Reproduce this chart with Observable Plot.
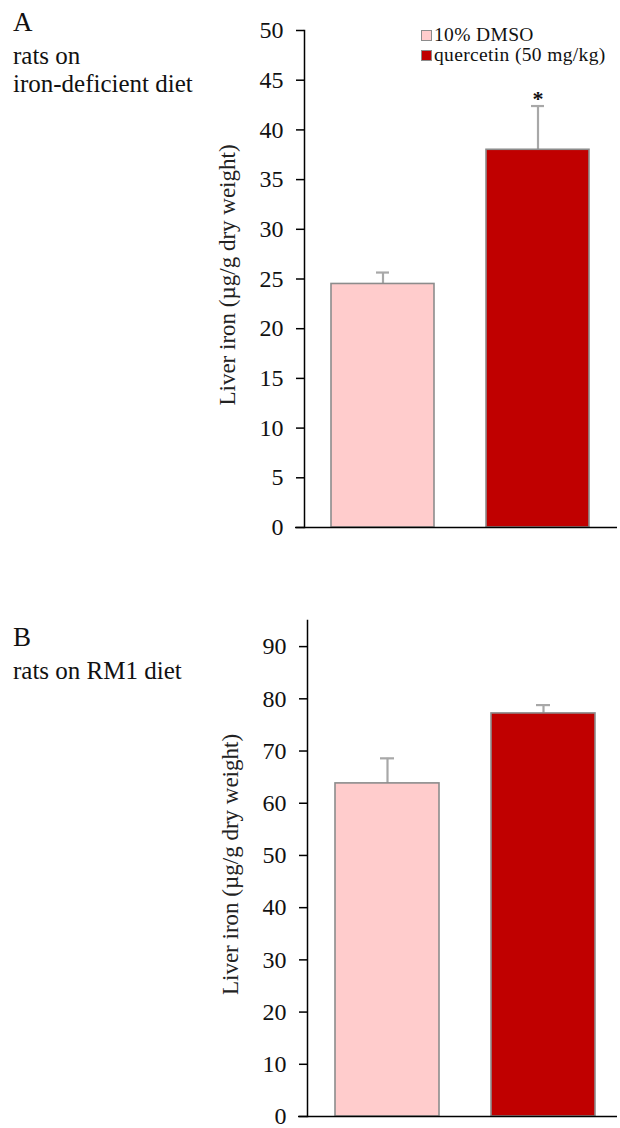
<!DOCTYPE html>
<html>
<head>
<meta charset="utf-8">
<script src="https://cdn.jsdelivr.net/npm/d3@7"></script>
<script src="https://cdn.jsdelivr.net/npm/@observablehq/plot@0.6"></script>
<style>
  body { margin: 0; background: #fff; }
  #wrap { position: relative; width: 620px; height: 1128px; font-family: "Liberation Serif", "DejaVu Serif", "Times New Roman", serif; color: #111; }
  .abs { position: absolute; white-space: nowrap; line-height: 1; }
  .plot { position: absolute; left: 0; }
  .sw { display: inline-block; width: 9px; height: 9px; border: 1px solid #8c8c8c; margin-right: 2px; vertical-align: 0px; }
</style>
</head>
<body>
<div id="wrap"></div>
<script>
// ---- data ----
const groups = ["10% DMSO", "quercetin (50 mg/kg)"];
const groupColors = ["#FFCCCC", "#C00000"];

const meanA = [24.5, 38.0];
const semA = [1.15, 4.4];
const sigA = ["", "*"];
const ticksA = [0, 5, 10, 15, 20, 25, 30, 35, 40, 45, 50];

const meanB = [63.8, 77.2];
const semB = [4.8, 1.6];
const sigB = ["", ""];
const ticksB = [0, 10, 20, 30, 40, 50, 60, 70, 80, 90];

const yLabel = "Liver iron (µg/g dry weight)";

const FONT = "'Liberation Serif', 'DejaVu Serif', 'Times New Roman', serif";
const wrap = document.getElementById("wrap");

function rows(mean, sem, sig) {
  return groups.map((g, i) => ({group: g, mean: mean[i], hi: mean[i] + sem[i], sig: sig[i]}));
}

function panel({data, ticks, domain, height, marginTop, marginBottom, range}) {
  return Plot.plot({
    width: 620,
    height,
    marginLeft: range[0],
    marginRight: 3,
    marginTop,
    marginBottom,
    style: {fontFamily: FONT, fontSize: "24px", color: "#111", background: "transparent", overflow: "visible"},
    x: {domain: groups, range, paddingInner: 0.333, paddingOuter: 0.173, axis: null},
    y: {domain, axis: null},
    color: {domain: groups, range: groupColors},
    marks: [
      Plot.axisY(ticks, {tickSize: 8, tickPadding: 13, stroke: "#000", strokeWidth: 1.5, label: null, fontSize: 24, fontFamily: FONT}),
      Plot.frame({anchor: "left", stroke: "#000", strokeWidth: 1.5}),
      Plot.ruleX(data, {x: "group", y1: "mean", y2: "hi", stroke: "#a8a8a8", strokeWidth: 2.2}),
      Plot.tickY(data, {x: "group", y: "hi", stroke: "#a8a8a8", strokeWidth: 2.2, insetLeft: 45, insetRight: 45}),
      Plot.barY(data, {x: "group", y: "mean", fill: "group", stroke: "#8c8c8c", strokeWidth: 1.6}),
      Plot.ruleY([0], {stroke: "#000", strokeWidth: 1.5, insetLeft: -9}),
      Plot.text(data, {x: "group", y: "hi", text: "sig", lineAnchor: "bottom", dy: 0, fontSize: 22, fontWeight: "bold", fill: "#111", fontFamily: FONT}),
      Plot.text([yLabel], {frameAnchor: "left", textAnchor: "middle", rotate: -90, dx: -77, dy: -4, fontSize: 23, fill: "#222", fontFamily: FONT})
    ]
  });
}

const plotA = panel({data: rows(meanA, semA, sigA), ticks: ticksA, domain: [0, 50], height: 560, marginTop: 30, marginBottom: 33, range: [304, 617]});
plotA.classList.add("plot");
plotA.style.top = "0px";
wrap.appendChild(plotA);

const plotB = panel({data: rows(meanB, semB, sigB), ticks: ticksB, domain: [0, 95], height: 568, marginTop: 60, marginBottom: 12, range: [307, 623]});
plotB.classList.add("plot");
plotB.style.top = "560px";
wrap.appendChild(plotB);

function addText(txt, left, top, size) {
  const d = document.createElement("div");
  d.className = "abs";
  d.style.left = left + "px";
  d.style.top = top + "px";
  d.style.fontSize = size + "px";
  d.textContent = txt;
  wrap.appendChild(d);
  return d;
}

// panel titles
addText("A", 13, 9, 27);
addText("rats on", 13, 43, 25);
addText("iron-deficient diet", 13, 71, 25);
addText("B", 13, 624, 27);
addText("rats on RM1 diet", 13, 658, 25);

// legend
groups.forEach((g, i) => {
  const d = document.createElement("div");
  d.className = "abs";
  d.style.left = "421px";
  d.style.top = (25 + i * 20) + "px";
  d.style.fontSize = "19.5px";
  d.style.letterSpacing = "0.35px";
  const sw = document.createElement("span");
  sw.className = "sw";
  sw.style.background = groupColors[i];
  d.appendChild(sw);
  d.appendChild(document.createTextNode(g));
  wrap.appendChild(d);
});
</script>
</body>
</html>
